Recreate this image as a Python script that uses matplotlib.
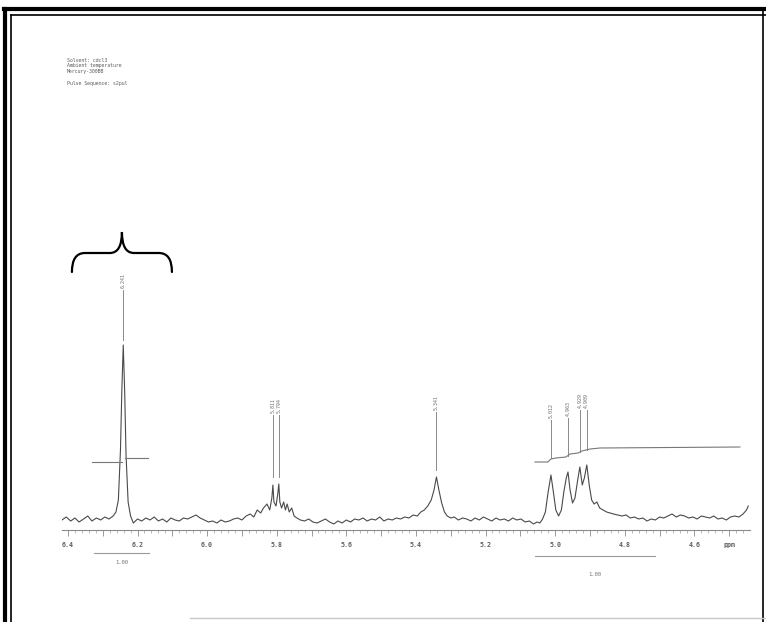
import matplotlib.pyplot as plt
from matplotlib.path import Path
from matplotlib.patches import PathPatch
from matplotlib.lines import Line2D
import numpy as np

# spectrum trace (ppm, intensity)
ppm = [6.417, 6.405, 6.392, 6.380, 6.368, 6.355, 6.343, 6.331, 6.318, 6.306, 6.294, 6.282, 6.270,
       6.262, 6.255, 6.249, 6.245, 6.241, 6.237, 6.233, 6.227, 6.220, 6.212,
       6.200, 6.188, 6.176, 6.164, 6.152, 6.140, 6.128, 6.116, 6.104, 6.092, 6.080, 6.068, 6.056,
       6.044, 6.032, 6.020, 6.008, 5.996, 5.984, 5.972, 5.960, 5.948, 5.936, 5.924, 5.912, 5.900,
       5.888, 5.876, 5.866, 5.856, 5.846,
       5.838, 5.828, 5.820, 5.814, 5.811, 5.808, 5.802, 5.797, 5.794, 5.791, 5.786, 5.780, 5.775,
       5.770, 5.764, 5.757, 5.750, 5.742, 5.732,
       5.720, 5.708, 5.696, 5.684, 5.672, 5.660, 5.648, 5.636, 5.624, 5.612, 5.600, 5.588, 5.576,
       5.564, 5.552, 5.540, 5.528, 5.516, 5.504, 5.492, 5.480, 5.468, 5.456, 5.444, 5.432, 5.420,
       5.408, 5.396, 5.386, 5.376, 5.366,
       5.356, 5.348, 5.341, 5.334, 5.326, 5.318, 5.310, 5.300,
       5.290, 5.278, 5.266, 5.254, 5.242, 5.230, 5.218, 5.206, 5.194, 5.182, 5.170, 5.158, 5.146,
       5.134, 5.122, 5.110, 5.098, 5.086, 5.074, 5.062, 5.052, 5.044, 5.036, 5.028,
       5.020, 5.012, 5.005, 4.998, 4.990, 4.982, 4.975, 4.968, 4.963, 4.957, 4.950, 4.943, 4.936,
       4.929, 4.922, 4.916, 4.909, 4.902, 4.895, 4.888, 4.880, 4.872, 4.862, 4.852, 4.842, 4.832,
       4.820,
       4.808, 4.796, 4.784, 4.772, 4.760, 4.748, 4.736, 4.724, 4.712, 4.700, 4.688, 4.676, 4.664,
       4.652, 4.640, 4.628, 4.616, 4.604, 4.592, 4.580, 4.568, 4.556, 4.544, 4.532, 4.520, 4.508,
       4.496, 4.484, 4.472, 4.460, 4.450, 4.445]
intensity = [10, 13, 9, 12, 8, 11, 14, 9, 12, 10, 13, 11, 14,
             18, 30, 80, 140, 185, 140, 75, 28, 14, 7,
             11, 9, 12, 10, 13, 9, 11, 8, 12, 10, 9, 12, 11,
             13, 15, 12, 10, 8, 9, 7, 10, 8, 9, 11, 12, 10,
             14, 16, 13, 20, 17,
             22, 26, 20, 32, 45, 28, 24, 36, 46, 28, 22, 28, 20,
             26, 18, 22, 14, 12, 10,
             9, 11, 8, 7, 9, 11, 8, 6, 9, 7, 10, 8, 11,
             10, 12, 9, 11, 10, 13, 9, 11, 10, 12, 11, 13, 12,
             15, 14, 18, 20, 24,
             30, 40, 53, 40, 27, 18, 14, 12,
             13, 10, 12, 11, 9, 12, 10, 13, 11, 9, 12, 10, 11,
             9, 12, 10, 11, 8, 9, 6, 8, 7, 11, 18,
             38, 55, 38, 20, 14, 20, 38, 52, 58, 40, 27, 32, 48,
             63, 45, 52, 65, 45, 30, 26, 28, 22, 20, 18, 17, 16,
             15,
             14, 15, 12, 13, 11, 12, 9, 11, 10, 13, 12, 14, 16,
             13, 15, 14, 12, 13, 11, 14, 13, 12, 14, 11, 12, 10,
             13, 14, 13, 16, 20, 24]

# picked peaks: position, label, top / bottom of the marker line
peak_pos = [6.241, 5.811, 5.794, 5.341, 5.012, 4.963, 4.929, 4.909]
peak_lab = ["6.241", "5.811", "5.794", "5.341", "5.012", "4.963", "4.929", "4.909"]
peak_top = [240, 115, 115, 118, 110, 112, 120, 120]
peak_bot = [190, 53, 53, 60, 72, 74, 78, 80]

# integral traces
int1_x = [6.330, 6.245, 6.237, 6.170]
int1_y = [68, 68, 72, 72]
int2_x = [5.058, 5.021, 5.012, 4.998, 4.969, 4.957, 4.934, 4.923, 4.900, 4.871, 4.469]
int2_y = [68, 68, 71, 72, 73, 76, 77, 79, 81, 82, 83]
int_ranges = [(6.325, 6.167), (5.058, 4.712)]
int_values = ["1.00", "1.00"]
int_label_y = [-32, -45]
int_bar_y = [-23, -26]

tick_vals = [6.4, 6.2, 6.0, 5.8, 5.6, 5.4, 5.2, 5.0, 4.8, 4.6]

header = ["Solvent: cdcl3", "Ambient temperature", "Mercury-300BB", "", "Pulse Sequence: s2pul"]

grey = "#5e5e5e"
fig = plt.figure(figsize=(7.66, 6.22), dpi=100)
ax = fig.add_axes([62 / 766, 92 / 622, 688 / 766, 500 / 622])
ax.set_xlim(6.417, 4.440)
ax.set_ylim(0, 500)

ax.plot(ppm, intensity, color="#4a4a4a", lw=0.8)

for p, lab, t, b in zip(peak_pos, peak_lab, peak_top, peak_bot):
    ax.plot([p, p], [b, t], color="#8a8a8a", lw=0.7)
    ax.text(p, t + 2, lab, rotation=90, ha="center", va="bottom", fontsize=3.6,
            color="#707070", family="DejaVu Sans Mono")

ax.plot(int1_x[:2], int1_y[:2], color="#777777", lw=0.8)
ax.plot(int1_x[2:], int1_y[2:], color="#777777", lw=0.8)
ax.plot(int2_x, int2_y, color="#777777", lw=0.8)

for (a, b), v, ly, by in zip(int_ranges, int_values, int_label_y, int_bar_y):
    ax.plot([a, b], [by, by], color="#9a9a9a", lw=0.8, clip_on=False)
    ax.text((a + b) / 2, ly, v, ha="center", va="center", fontsize=4,
            color="#707070", family="DejaVu Sans Mono", clip_on=False)

# x axis in the Varian style
for s in ["top", "right", "left"]:
    ax.spines[s].set_visible(False)
ax.spines["bottom"].set_color("#8a8a8a")
ax.spines["bottom"].set_linewidth(0.8)
ax.set_yticks([])
ax.set_xticks(np.arange(4.5, 6.41, 0.1))
ax.set_xticks(np.arange(4.46, 6.41, 0.02), minor=True)
ax.set_xticklabels([])
ax.tick_params(axis="x", which="major", length=4, width=0.6, color="#8a8a8a", direction="out")
ax.tick_params(axis="x", which="minor", length=2, width=0.5, color="#a0a0a0", direction="out")
for t in tick_vals:
    ax.text(t, -15, f"{t:.1f}", ha="center", va="center", fontsize=4.8, fontweight="bold",
            color=grey, family="DejaVu Sans Mono", clip_on=False)
ax.text(4.498, -15, "ppm", ha="center", va="center", fontsize=4.8, fontweight="bold",
        color=grey, family="DejaVu Sans Mono", clip_on=False)

# curly brace over the big peak
verts = [(6.3885, 258), (6.3885, 277), (6.3511, 277),
         (6.2793, 277),
         (6.2448, 277), (6.2448, 298),
         (6.2448, 277), (6.2103, 277),
         (6.1385, 277),
         (6.1011, 277), (6.1011, 258)]
codes = [Path.MOVETO, Path.CURVE3, Path.CURVE3,
         Path.LINETO,
         Path.CURVE3, Path.CURVE3,
         Path.CURVE3, Path.CURVE3,
         Path.LINETO,
         Path.CURVE3, Path.CURVE3]
ax.add_patch(PathPatch(Path(verts, codes), facecolor="none", edgecolor="black", lw=1.6,
                       capstyle="round", joinstyle="miter", clip_on=False))

# acquisition header
for i, line in enumerate(header):
    fig.text(67 / 766, 1 - (60 + 6 * i) / 622, line, fontsize=3.5, color=grey,
             family="DejaVu Sans Mono", va="center")

# scanned page frame
W, H = 766, 622
def fl(xs, ys, **kw):
    fig.add_artist(Line2D([x / W for x in xs], [1 - y / H for y in ys], **kw))
fl([5, 5], [9, 640], color="black", lw=3)
fl([4, 770], [9, 9], color="black", lw=3)
fl([11, 11], [15, 640], color="black", lw=1.2)
fl([11, 770], [15, 15], color="black", lw=1.2)
fl([763, 763], [9, 640], color="black", lw=1.2)
fl([190, 766], [618, 618], color="#c8c8c8", lw=1.0)

fig.savefig("out.png", dpi=100)
